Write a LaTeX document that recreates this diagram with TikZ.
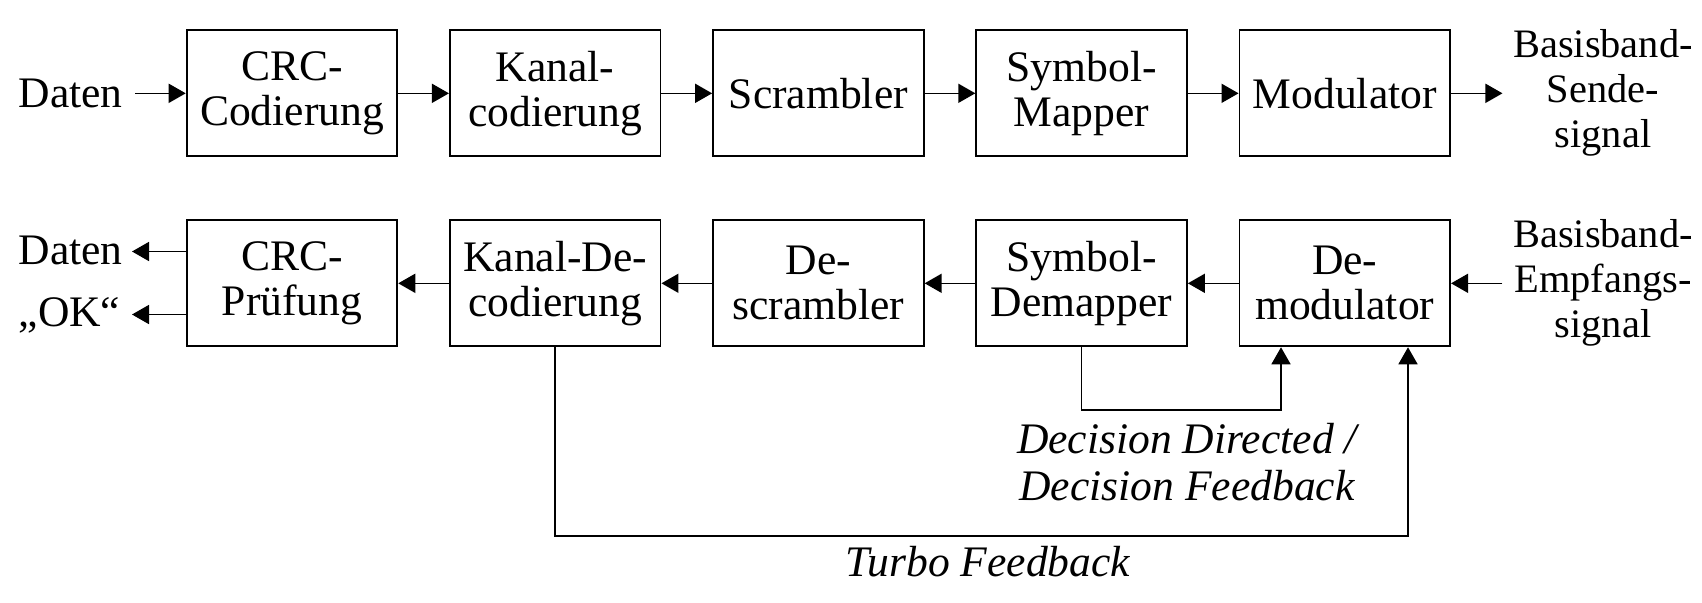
\documentclass[tikz,border=0pt]{standalone}
\usepackage{fontspec}
\setmainfont{Liberation Serif}
\usetikzlibrary{arrows.meta}
\begin{document}
\begin{tikzpicture}[font=\fontsize{12.4}{12.8}\selectfont,>={Triangle[length=0.17cm,width=0.19cm]},
  blk/.style={draw,line width=0.55pt,minimum width=2.106cm,minimum height=1.26cm,align=center,inner sep=0pt},
  lbl/.style={align=center,inner sep=0pt},
  sig/.style={lbl,font=\fontsize{11.5}{12.8}\selectfont},
  fb/.style={lbl,font=\fontsize{12.4}{13.4}\selectfont\itshape},
  con/.style={->,line width=0.45pt}]
  \useasboundingbox (0,0) rectangle (17.02,-6.02);
  % Sender
  \node[lbl,anchor=west] (din) at (0.18,-0.933){Daten};
  \node[blk] (crc) at (2.92,-0.933){CRC-\\Codierung};
  \node[blk] (kc) at (5.552,-0.933){Kanal-\\codierung};
  \node[blk] (scr) at (8.184,-0.933){Scrambler};
  \node[blk] (map) at (10.816,-0.933){Symbol-\\Mapper};
  \node[blk] (mod) at (13.448,-0.933){Modulator};
  \node[sig] (sout) at (16.03,-0.93){Basisband-\\Sende-\\signal};
  % Empfaenger
  \node[blk] (crcp) at (2.92,-2.833){CRC-\\Prüfung};
  \node[blk] (kd) at (5.552,-2.833){Kanal-De-\\codierung};
  \node[blk] (dscr) at (8.184,-2.833){De-\\scrambler};
  \node[blk] (demap) at (10.816,-2.833){Symbol-\\Demapper};
  \node[blk] (demod) at (13.448,-2.833){De-\\modulator};
  \node[sig] (sin) at (16.03,-2.83){Basisband-\\Empfangs-\\signal};
  \node[lbl,anchor=west] (dout) at (0.18,-2.50){Daten};
  \node[lbl,anchor=west] (ok) at (0.18,-3.15){„OK“};
  \coordinate (doutend) at (1.32,-2.515);
  \coordinate (okend) at (1.32,-3.145);
  \node[fb] (ddl) at (11.87,-4.62){Decision Directed /\\Decision Feedback};
  \node[fb] (tfl) at (9.88,-5.62){Turbo Feedback};
  % Pfeile
  \draw[con] ([xshift=0.12cm]din.east) -- (crc.west);
  \draw[con] (crc) -- (kc);
  \draw[con] (kc) -- (scr);
  \draw[con] (scr) -- (map);
  \draw[con] (map) -- (mod);
  \draw[con] (mod.east) -- ([xshift=-0.1cm]sout.west |- mod.east);
  \draw[con] ([xshift=-0.1cm]sin.west |- demod.east) -- (demod.east);
  \draw[con] (demod) -- (demap);
  \draw[con] (demap) -- (dscr);
  \draw[con] (dscr) -- (kd);
  \draw[con] (kd) -- (crcp);
  \draw[con] (crcp.west |- doutend) -- (doutend);
  \draw[con] (crcp.west |- okend) -- (okend);
  \draw[con] (demap.south) -- ++(0,-0.63) -| ([xshift=-0.638cm]demod.south);
  \draw[con] (kd.south) -- ++(0,-1.89) -| ([xshift=0.632cm]demod.south);
\end{tikzpicture}
\end{document}
